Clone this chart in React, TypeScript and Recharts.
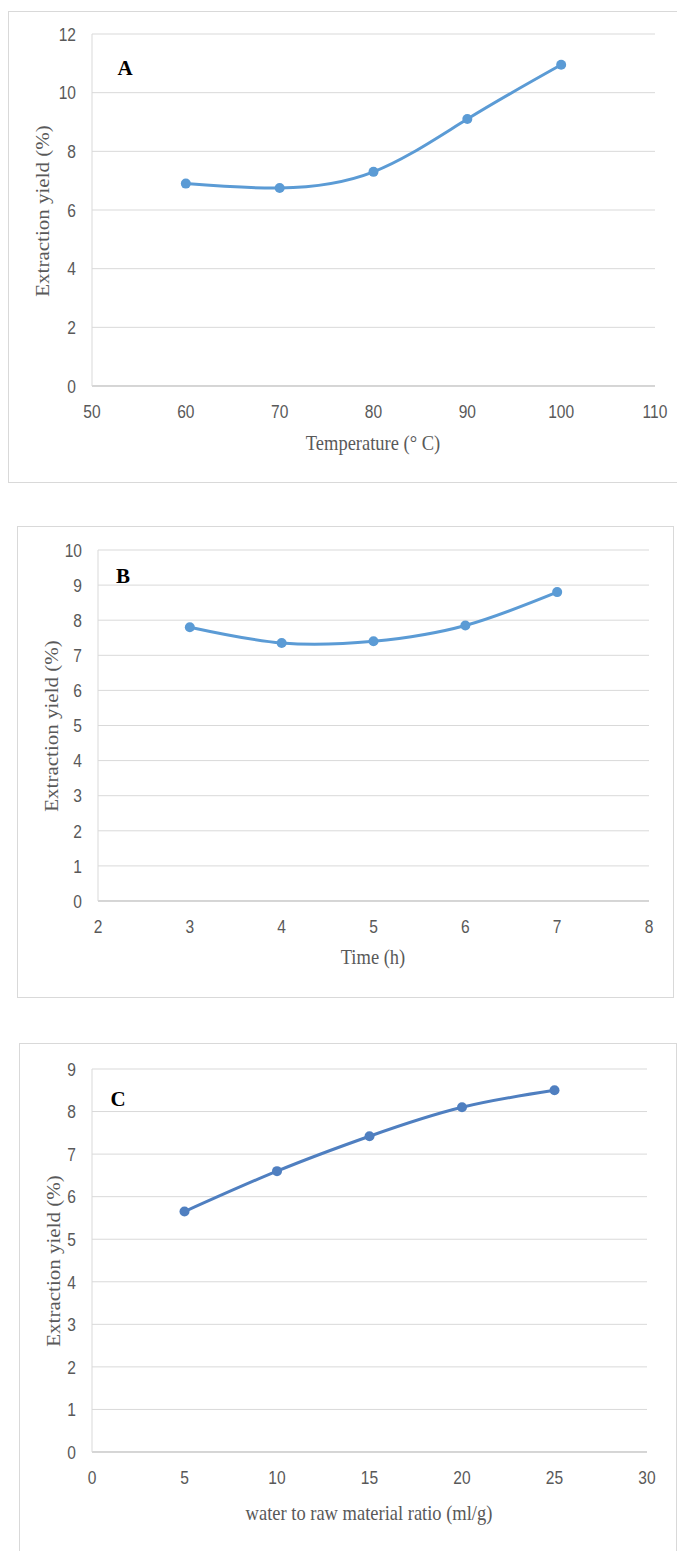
import React from "react";
import { LineChart, Line, XAxis, YAxis, CartesianGrid } from "recharts";

// Panel A: temperature
const tempX = [60, 70, 80, 90, 100];
const tempYield = [6.9, 6.75, 7.3, 9.1, 10.95];
const tempXTicks = [50, 60, 70, 80, 90, 100, 110];
const tempYTicks = [0, 2, 4, 6, 8, 10, 12];

// Panel B: time
const timeX = [3, 4, 5, 6, 7];
const timeYield = [7.8, 7.35, 7.4, 7.85, 8.8];
const timeXTicks = [2, 3, 4, 5, 6, 7, 8];
const timeYTicks = [0, 1, 2, 3, 4, 5, 6, 7, 8, 9, 10];

// Panel C: water / raw material ratio
const ratioX = [5, 10, 15, 20, 25];
const ratioYield = [5.65, 6.6, 7.42, 8.1, 8.5];
const ratioXTicks = [0, 5, 10, 15, 20, 25, 30];
const ratioYTicks = [0, 1, 2, 3, 4, 5, 6, 7, 8, 9];

const GRID = "#d9d9d9";
const TEXT = "#595959";
const serif = "'Liberation Serif', 'Times New Roman', serif";

// narrow-looking tick labels, squeezed around their anchor point
function makeTick(anchor: "middle" | "end", dy: string) {
  return (props: any) => {
    const { x, y, payload } = props;
    return (
      <text
        x={x}
        y={y}
        dy={dy}
        textAnchor={anchor}
        fill={TEXT}
        fontSize={19}
        fontFamily="'Liberation Sans', Arial, sans-serif"
        transform={`translate(${x},${y}) scale(0.82,1) translate(${-x},${-y})`}
      >
        {payload.value}
      </text>
    );
  };
}
const xTick = makeTick("middle", "0.71em");
const yTick = makeTick("end", "0.355em");

type Plot = { left: number; top: number; right: number; bottom: number };

type PanelProps = {
  xs: number[];
  ys: number[];
  xTicks: number[];
  yTicks: number[];
  color: string;
  plot: Plot;
  box: { left: number; top: number; width: number; height: number };
  letter: string;
  letterPos: [number, number];
  yTitlePos: [number, number];
  xTitle: string;
  xTitlePos: [number, number];
};

function Panel(p: PanelProps) {
  const data = p.xs.map((x, i) => ({ x, y: p.ys[i] }));
  const chartTop = p.box.top;
  const chartH = p.plot.bottom - chartTop + 80;
  const yAxisW = 50;
  const xAxisH = 40;
  return (
    <>
      <div
        style={{
          position: "absolute",
          left: p.box.left,
          top: p.box.top,
          width: p.box.width,
          height: p.box.height,
          border: "1px solid #d9d9d9",
          boxSizing: "border-box",
        }}
      />
      <div style={{ position: "absolute", left: 0, top: chartTop }}>
        <LineChart
          width={677}
          height={chartH}
          data={data}
          margin={{
            top: p.plot.top - chartTop,
            right: 677 - p.plot.right,
            left: p.plot.left - yAxisW,
            bottom: chartH - (p.plot.bottom - chartTop) - xAxisH,
          }}
        >
          <CartesianGrid vertical={false} stroke={GRID} strokeWidth={1} />
          <XAxis
            dataKey="x"
            type="number"
            domain={[p.xTicks[0], p.xTicks[p.xTicks.length - 1]]}
            ticks={p.xTicks}
            interval={0}
            height={xAxisH}
            tickLine={false}
            tickSize={0}
            tickMargin={19}
            axisLine={{ stroke: "#bfbfbf" }}
            tick={xTick}
          />
          <YAxis
            type="number"
            domain={[p.yTicks[0], p.yTicks[p.yTicks.length - 1]]}
            ticks={p.yTicks}
            interval={0}
            width={yAxisW}
            tickLine={false}
            tickSize={0}
            tickMargin={16}
            axisLine={{ stroke: GRID }}
            tick={yTick}
          />
          <Line
            dataKey="y"
            type="natural"
            stroke={p.color}
            strokeWidth={3}
            dot={{ r: 5, fill: p.color, stroke: p.color, strokeWidth: 0 }}
            isAnimationActive={false}
          />
        </LineChart>
      </div>
      <div
        style={{
          position: "absolute",
          left: p.letterPos[0],
          top: p.letterPos[1],
          transform: "translate(-50%, -50%)",
          fontFamily: serif,
          fontWeight: "bold",
          fontSize: 21,
          color: "#000",
          lineHeight: 1,
        }}
      >
        {p.letter}
      </div>
      <div
        style={{
          position: "absolute",
          left: p.yTitlePos[0],
          top: p.yTitlePos[1],
          transform: "translate(-50%, -50%) rotate(-90deg) scaleY(0.85)",
          fontFamily: serif,
          fontSize: 21,
          color: TEXT,
          whiteSpace: "nowrap",
          lineHeight: 1,
        }}
      >
        Extraction yield (%)
      </div>
      <div
        style={{
          position: "absolute",
          left: p.xTitlePos[0],
          top: p.xTitlePos[1],
          transform: "translate(-50%, -50%) scaleX(0.88)",
          fontFamily: serif,
          fontSize: 21,
          color: TEXT,
          whiteSpace: "nowrap",
          lineHeight: 1,
        }}
      >
        {p.xTitle}
      </div>
    </>
  );
}

export default function App() {
  return (
    <div style={{ position: "absolute", left: 0, top: 0, width: 677, height: 1551, background: "#fff", overflow: "hidden" }}>
      <Panel
        xs={tempX}
        ys={tempYield}
        xTicks={tempXTicks}
        yTicks={tempYTicks}
        color="#5b9bd5"
        plot={{ left: 92, top: 34, right: 655, bottom: 386 }}
        box={{ left: 8, top: 11, width: 675, height: 472 }}
        letter="A"
        letterPos={[125, 68]}
        yTitlePos={[43, 211]}
        xTitle="Temperature (° C)"
        xTitlePos={[373, 443]}
      />
      <Panel
        xs={timeX}
        ys={timeYield}
        xTicks={timeXTicks}
        yTicks={timeYTicks}
        color="#5b9bd5"
        plot={{ left: 98, top: 550, right: 649, bottom: 901 }}
        box={{ left: 17, top: 526, width: 657, height: 472 }}
        letter="B"
        letterPos={[123, 576]}
        yTitlePos={[52, 726]}
        xTitle="Time (h)"
        xTitlePos={[373, 957]}
      />
      <Panel
        xs={ratioX}
        ys={ratioYield}
        xTicks={ratioXTicks}
        yTicks={ratioYTicks}
        color="#4f7fc0"
        plot={{ left: 92, top: 1069, right: 647, bottom: 1452 }}
        box={{ left: 19, top: 1043, width: 658, height: 530 }}
        letter="C"
        letterPos={[118, 1099]}
        yTitlePos={[54, 1261]}
        xTitle="water to raw material ratio (ml/g)"
        xTitlePos={[369, 1513]}
      />
    </div>
  );
}
